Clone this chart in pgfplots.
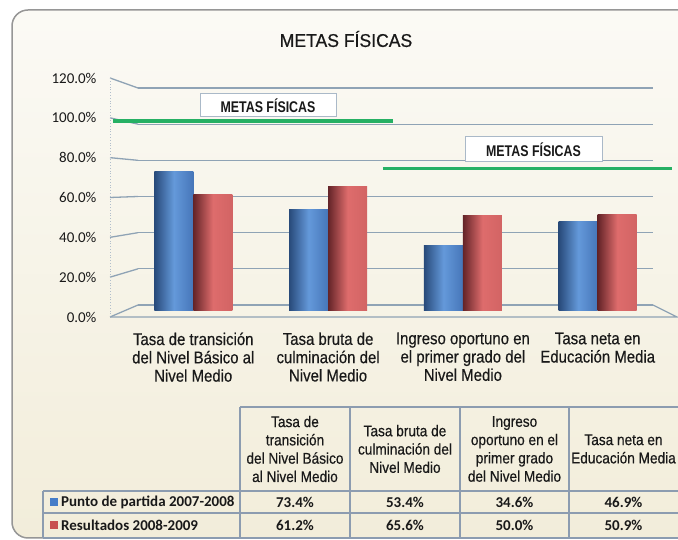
\documentclass[border=0pt]{standalone}
\usepackage{fontspec}
\setmainfont{Liberation Sans}[FakeStretch=0.88,FakeBold=0.4]
\newfontfamily\titlef{Liberation Sans}[FakeStretch=0.95,FakeBold=0.6]
\newfontfamily\boxf{Liberation Sans}[FakeStretch=0.8]
\newfontfamily\carlito{Carlito}
\usepackage{pgfplots}
\pgfplotsset{compat=1.18}
\definecolor{gridc}{RGB}{143,163,181}
\definecolor{tabc}{RGB}{140,156,176}
\definecolor{labc}{RGB}{25,25,25}
\definecolor{bgtop}{RGB}{251,250,245}
\definecolor{bgbot}{RGB}{242,237,218}
\definecolor{bl1}{RGB}{40,74,122}
\definecolor{bl2}{RGB}{100,153,218}
\definecolor{bl3}{RGB}{70,118,185}
\definecolor{rd1}{RGB}{100,36,40}
\definecolor{rd2}{RGB}{222,108,108}
\definecolor{rd3}{RGB}{210,100,100}
\definecolor{metagreen}{RGB}{38,176,100}
\definecolor{boxc}{RGB}{170,185,200}
\definecolor{sqb}{RGB}{70,125,200}
\definecolor{sqr}{RGB}{200,80,80}
\pgfplotsset{
  blueb/.style={ybar, bar width=39pt, bar shift=-19.5pt, draw=none, left color=bl1, right color=bl3, middle color=bl2},
  redb/.style={ybar, bar width=39pt, bar shift=19.5pt, draw=none, left color=rd1, right color=rd3, middle color=rd2}
}
\begin{document}
\begin{tikzpicture}
\clip (0pt,0pt) rectangle (678pt,540pt);
\begin{scope}[x=1pt,y=1pt]
\fill[white] (0,0) rectangle (678,540);
\draw[draw={rgb,255:red,150;green,150;blue,150}, line width=1.5pt, rounded corners=16pt, top color=bgtop, bottom color=bgbot] (12,2) rectangle (700,530);
\node[font=\titlef\fontsize{18.5}{18.5}\selectfont, text=labc] at (346,501) {METAS FÍSICAS};
% side wall slant lines and floor
\foreach \t in {0,20,...,120} {
  \draw[gridc, line width=1.3pt] (110,{223+\t/120*239}) -- (138,{235+\t/120*217});
}
\draw[gridc!70, dotted, line width=0.8pt] (110,223) -- (110,462);
\draw[gridc, line width=1.3pt] (110,223) -- (677,223) -- (653,235);
\end{scope}
% back wall grid
\begin{axis}[at={(138pt,235pt)}, anchor=south west, scale only axis, width=515pt, height=217pt,
  xmin=-0.41, xmax=3.41, ymin=0, ymax=120, ytick={0,20,...,120}, xtick=\empty, yticklabels={,,,,,,},
  ymajorgrids, grid style={gridc, line width=1.3pt}, axis line style={draw=none}, major tick length=0pt]
\end{axis}
% front labels
\begin{axis}[at={(110pt,223pt)}, anchor=south west, scale only axis, width=1pt, height=239pt,
  xmin=0, xmax=1, ymin=0, ymax=120, ytick={0,20,...,120},
  yticklabels={0.0\%,20.0\%,40.0\%,60.0\%,80.0\%,100.0\%,120.0\%},
  xtick=\empty, axis line style={draw=none}, major tick length=0pt,
  yticklabel style={font=\carlito\fontsize{15}{15}\selectfont, text=labc, xshift=-10pt}]
\end{axis}
% bars
\begin{axis}[at={(138pt,229pt)}, anchor=south west, scale only axis, width=515pt, height=228pt,
  xmin=-0.41, xmax=3.41, ymin=0, ymax=120, ytick=\empty, xtick={0,1,2,3},
  xticklabels={{Tasa de transición\\del Nivel Básico al\\Nivel Medio},{Tasa bruta de\\culminación del\\Nivel Medio},{Ingreso oportuno en\\el primer grado del\\Nivel Medio},{Tasa neta en\\Educación Media}},
  xticklabel style={align=center, font=\fontsize{17}{18.3}\selectfont, text=labc, anchor=north, yshift=-18pt},
  axis line style={draw=none}, major tick length=0pt, clip=false]
% Punto de partida 2007-2008
\addplot[blueb] coordinates {(0,73.4)};
\addplot[blueb] coordinates {(1,53.4)};
\addplot[blueb] coordinates {(2,34.6)};
\addplot[blueb] coordinates {(3,46.9)};
% Resultados 2008-2009
\addplot[redb] coordinates {(0,61.2)};
\addplot[redb] coordinates {(1,65.6)};
\addplot[redb] coordinates {(2,50.0)};
\addplot[redb] coordinates {(3,50.9)};
% metas
\addplot[metagreen, line width=3.5pt, no marks] coordinates {(-0.593,100) (1.481,100)};
\addplot[metagreen, line width=3.5pt, no marks] coordinates {(1.407,75) (3.548,75)};
\end{axis}
\begin{scope}[x=1pt,y=1pt]
% boxes
\node[draw=boxc, fill=white, line width=1pt, minimum width=136pt, minimum height=23pt, inner sep=0pt,
  font=\boxf\bfseries\fontsize{15.5}{15.5}\selectfont, text=labc] at (268,434.5) {METAS FÍSICAS};
\node[draw=boxc, fill=white, line width=1pt, minimum width=137pt, minimum height=25pt, inner sep=0pt,
  font=\boxf\bfseries\fontsize{15.5}{15.5}\selectfont, text=labc] at (533.5,390.5) {METAS FÍSICAS};
% table
\begin{scope}[tabc, line width=1.2pt]
\draw (240,133) -- (678,133);
\draw (43,49) -- (678,49);
\draw (43,27) -- (678,27);
\draw (43,2) -- (678,2);
\draw (43,2) -- (43,49);
\foreach \x in {240,350,460,569} { \draw (\x,2) -- (\x,133); }
\end{scope}
\begin{scope}[every node/.style={align=center, font=\fontsize{15.5}{18.3}\selectfont, text=labc}]
\node at (295,91) {Tasa de\\transición\\del Nivel Básico\\al Nivel Medio};
\node at (405,91) {Tasa bruta de\\culminación del\\Nivel Medio};
\node at (514.5,91) {Ingreso\\oportuno en el\\primer grado\\del Nivel Medio};
\node at (623.5,91) {Tasa neta en\\Educación Media};
\end{scope}
\fill[sqb] (50,34) rectangle (58,42);
\fill[sqr] (50,11) rectangle (58,19);
\begin{scope}[every node/.style={font=\carlito\bfseries\fontsize{15}{15}\selectfont, text=labc}]
\node[anchor=west, inner sep=0pt] at (61,38) {Punto de partida 2007-2008};
\node[anchor=west, inner sep=0pt] at (61,15) {Resultados 2008-2009};
\node at (295,38) {73.4\%};
\node at (405,38) {53.4\%};
\node at (514.5,38) {34.6\%};
\node at (623.5,38) {46.9\%};
\node at (295,15) {61.2\%};
\node at (405,15) {65.6\%};
\node at (514.5,15) {50.0\%};
\node at (623.5,15) {50.9\%};
\end{scope}
\end{scope}
\end{tikzpicture}
\end{document}
